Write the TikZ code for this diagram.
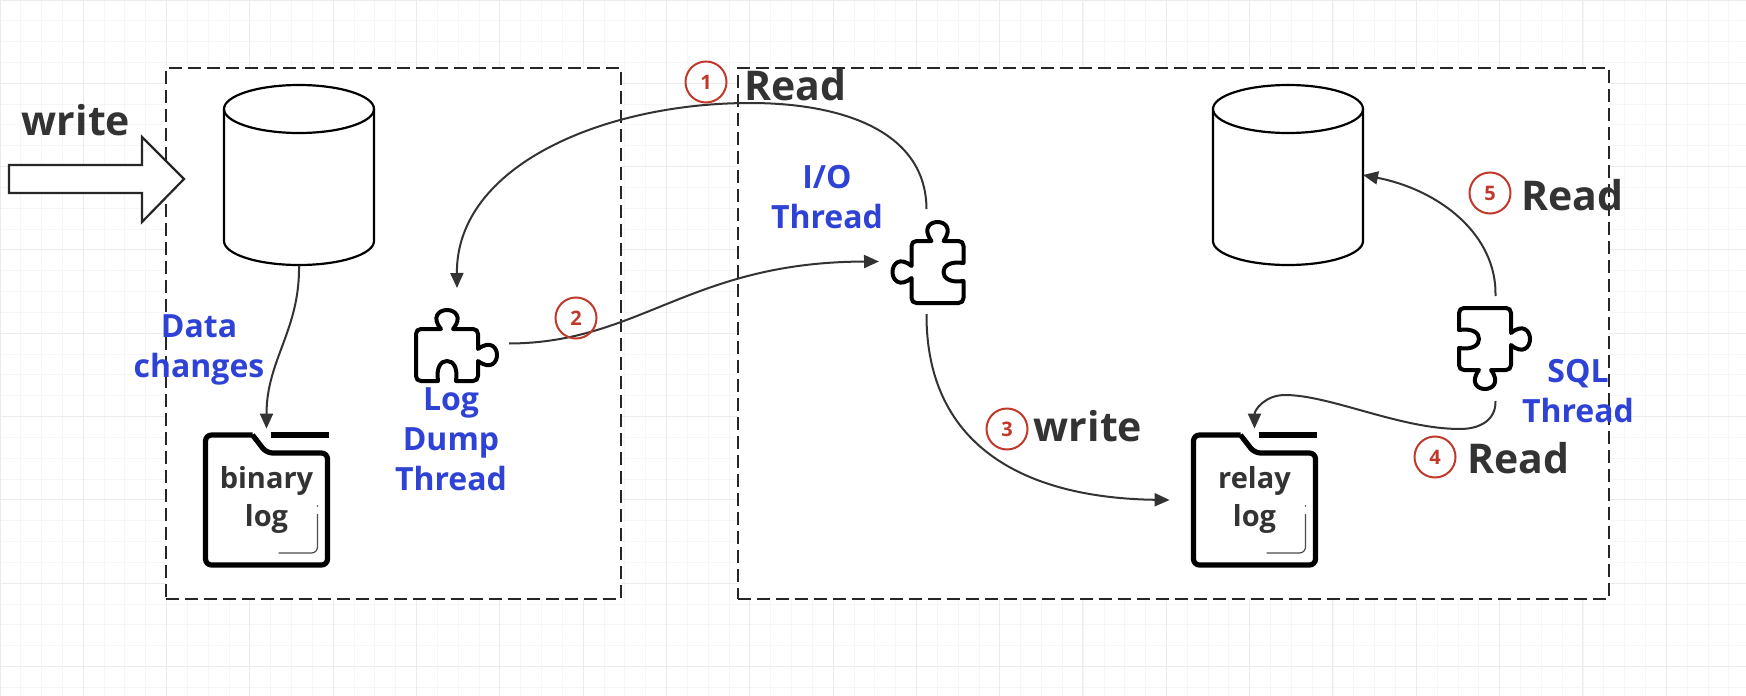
\documentclass[tikz,border=0pt]{standalone}
\usepackage{fontspec}
\usepackage{xcolor}
\usetikzlibrary{arrows.meta}
\setmainfont{Open Sans}
\definecolor{inkgray}{HTML}{333333}
\definecolor{labelblue}{HTML}{2F42D6}
\definecolor{stepred}{HTML}{C0392B}
\definecolor{gridmajor}{HTML}{EBEBEB}
\definecolor{gridminor}{HTML}{F6F6F6}
\begin{document}
\begin{tikzpicture}[x=0.5pt,y=-0.5pt]
	\useasboundingbox (0,0) rectangle (1746,696);
	\tikzstyle{groupbox}=[rectangle,draw=black!85,fill=white,line width=1.1pt,dash pattern=on 6.5pt off 3pt]
	\tikzstyle{database}=[rectangle,minimum width=75pt,minimum height=90.5pt,inner sep=0pt,outer sep=0pt]
	\tikzstyle{logfolder}=[rectangle,minimum width=61.5pt,minimum height=65pt,align=center,text=inkgray,font=\bfseries\fontsize{14.5}{19}\selectfont]
	\tikzstyle{puzzlebox}=[rectangle,inner sep=0pt,outer sep=5.5pt]
	\tikzstyle{flow}=[line width=1pt,-{Triangle[length=7.5pt,width=6.5pt]},inkgray]
	\tikzstyle{stepnum}=[circle,draw=stepred,line width=1pt,text=stepred,minimum size=20.5pt,inner sep=0pt,font=\bfseries\fontsize{10}{11}\selectfont]
	\tikzstyle{action}=[text=inkgray,font=\bfseries\fontsize{20.5}{24}\selectfont]
	\tikzstyle{threadlabel}=[text=labelblue,align=center,font=\bfseries\fontsize{16}{20}\selectfont]
	\tikzset{
		puzzle/.pic={
			\draw[black,line width=2pt,line join=round]
				(-26,-26) -- (-6,-26) .. controls (-16,-38) and (-8,-45) .. (0,-45)
				.. controls (8,-45) and (16,-38) .. (6,-26) -- (26,-26)
				.. controls (29,-26) and (31,-24) .. (31,-21) -- (31,-6)
				.. controls (43,-15) and (50,-8) .. (50,0)
				.. controls (50,8) and (43,15) .. (31,6) -- (31,21)
				.. controls (31,24) and (29,26) .. (26,26) -- (9,26)
				.. controls (11,12) and (6,6) .. (0,6)
				.. controls (-6,6) and (-11,12) .. (-9,26) -- (-26,26)
				.. controls (-29,26) and (-31,24) .. (-31,21) -- (-31,-21)
				.. controls (-31,-24) and (-29,-26) .. (-26,-26) -- cycle;
		},
		dbdrum/.pic={
			\draw[black,fill=white,line width=1.1pt]
				(-75,-66) .. controls (-75,-79.25) and (-41.4,-90) .. (0,-90)
				.. controls (41.4,-90) and (75,-79.25) .. (75,-66) -- (75,66)
				.. controls (75,79.25) and (41.4,90) .. (0,90)
				.. controls (-41.4,90) and (-75,79.25) .. (-75,66) -- cycle;
			\draw[black,line width=1.1pt]
				(-75,-66) .. controls (-75,-52.75) and (-41.4,-42) .. (0,-42)
				.. controls (41.4,-42) and (75,-52.75) .. (75,-66);
		}
	}

	\foreach \i in {0,...,83}
		\draw[gridminor,line width=0.5pt] (\i*20.83,0) -- (\i*20.83,696);
	\foreach \i in {0,...,33}
		\draw[gridminor,line width=0.5pt] (0,\i*20.83) -- (1746,\i*20.83);
	\foreach \i in {0,...,20}
		\draw[gridmajor,line width=0.5pt] (\i*83.3,0) -- (\i*83.3,696);
	\foreach \i in {0,...,8}
		\draw[gridmajor,line width=0.5pt] (0,\i*83.3) -- (1746,\i*83.3);

	\node[groupbox,minimum width=227.5pt,minimum height=265.5pt](masterbox) at (393.5,333.5) {};
	\node[groupbox,minimum width=435.5pt,minimum height=265.5pt](slavebox) at (1173.5,333.5) {};

	\node[database](masterdb) at (299,175) {};
	\node[database](slavedb) at (1288,175) {};
	\pic at (masterdb) {dbdrum};
	\pic at (slavedb) {dbdrum};

	\draw[black!85,fill=white,line width=1.1pt,line join=miter] (9,165) -- (142,165) -- (142,137) -- (184,179) -- (142,222) -- (142,193) -- (9,193) -- cycle;
	\node[action](writein) at (76,120) {write};

	\node[logfolder](binlog) at (266.5,500) {binary\\log};
	\node[logfolder](relaylog) at (1254.5,500) {relay\\log};
	\foreach \fx in {266.5,1254.5} {
		\draw[black,line width=2.6pt,line join=round,rounded corners=3pt]
			(\fx-14,435) -- (\fx-61,435) -- (\fx-61,565) -- (\fx+61,565) -- (\fx+61,453) -- (\fx,453) -- (\fx-14,435);
		\draw[black,line width=2.6pt] (\fx+4,435) -- (\fx+62,435);
		\draw[black!70,line width=0.6pt,rounded corners=3pt] (\fx+12,553) -- (\fx+51,553) -- (\fx+51,514);
		\fill[black!70] (\fx+51,506) circle (0.4pt);
	}

	\node[puzzlebox,minimum width=41pt,minimum height=36.5pt](logdump) at (457,343.5) {};
	\node[puzzlebox,minimum width=36.5pt,minimum height=41.5pt](iothread) at (926.5,261.5) {};
	\node[puzzlebox,minimum width=36.5pt,minimum height=41.5pt](sqlthread) at (1495.5,348.5) {};
	\pic at (447,355) {puzzle};
	\pic[rotate=90] at (937.5,272) {puzzle};
	\pic[rotate=-90] at (1485,339) {puzzle};

	\draw[flow] (iothread.north) .. controls (926,130) and (840,103) .. (750,103) .. controls (605,103) and (456,165) .. ([yshift=4pt]logdump.north);
	\draw[flow] (logdump.east) .. controls (640,343) and (690,262) .. (iothread.west);
	\draw[flow] (iothread.south) .. controls (926,450) and (1030,498) .. ([xshift=-11.5pt]relaylog.west);
	\draw[flow] (sqlthread.south) .. controls (1496,420) and (1480,429) .. (1460,429) .. controls (1400,429) and (1330,395) .. (1285,395) .. controls (1265,395) and (1254.5,410) .. ([yshift=3pt]relaylog.north);
	\draw[flow] (sqlthread.north) .. controls (1497,235) and (1440,190) .. (slavedb.east);
	\draw[flow] (masterdb.south) .. controls (300,330) and (266.5,360) .. ([yshift=3pt]binlog.north);

	\node[stepnum](step1) at (706,82) {1};
	\node[stepnum](step2) at (576,318) {2};
	\node[stepnum](step3) at (1007,429) {3};
	\node[stepnum](step4) at (1435,457) {4};
	\node[stepnum](step5) at (1490,193) {5};
	\node[action](read1) at (795,85) {Read};
	\node[action](write3) at (1088,426) {write};
	\node[action](read4) at (1518,458) {Read};
	\node[action](read5) at (1572,195) {Read};

	\node[threadlabel](datalabel) at (199,350) {Data\\changes};
	\node[threadlabel](dumplabel) at (451,439) {Log\\Dump\\Thread};
	\node[threadlabel](iolabel) at (827,197) {I/O\\Thread};
	\node[threadlabel](sqllabel) at (1578,391) {SQL\\Thread};
\end{tikzpicture}
\end{document}
